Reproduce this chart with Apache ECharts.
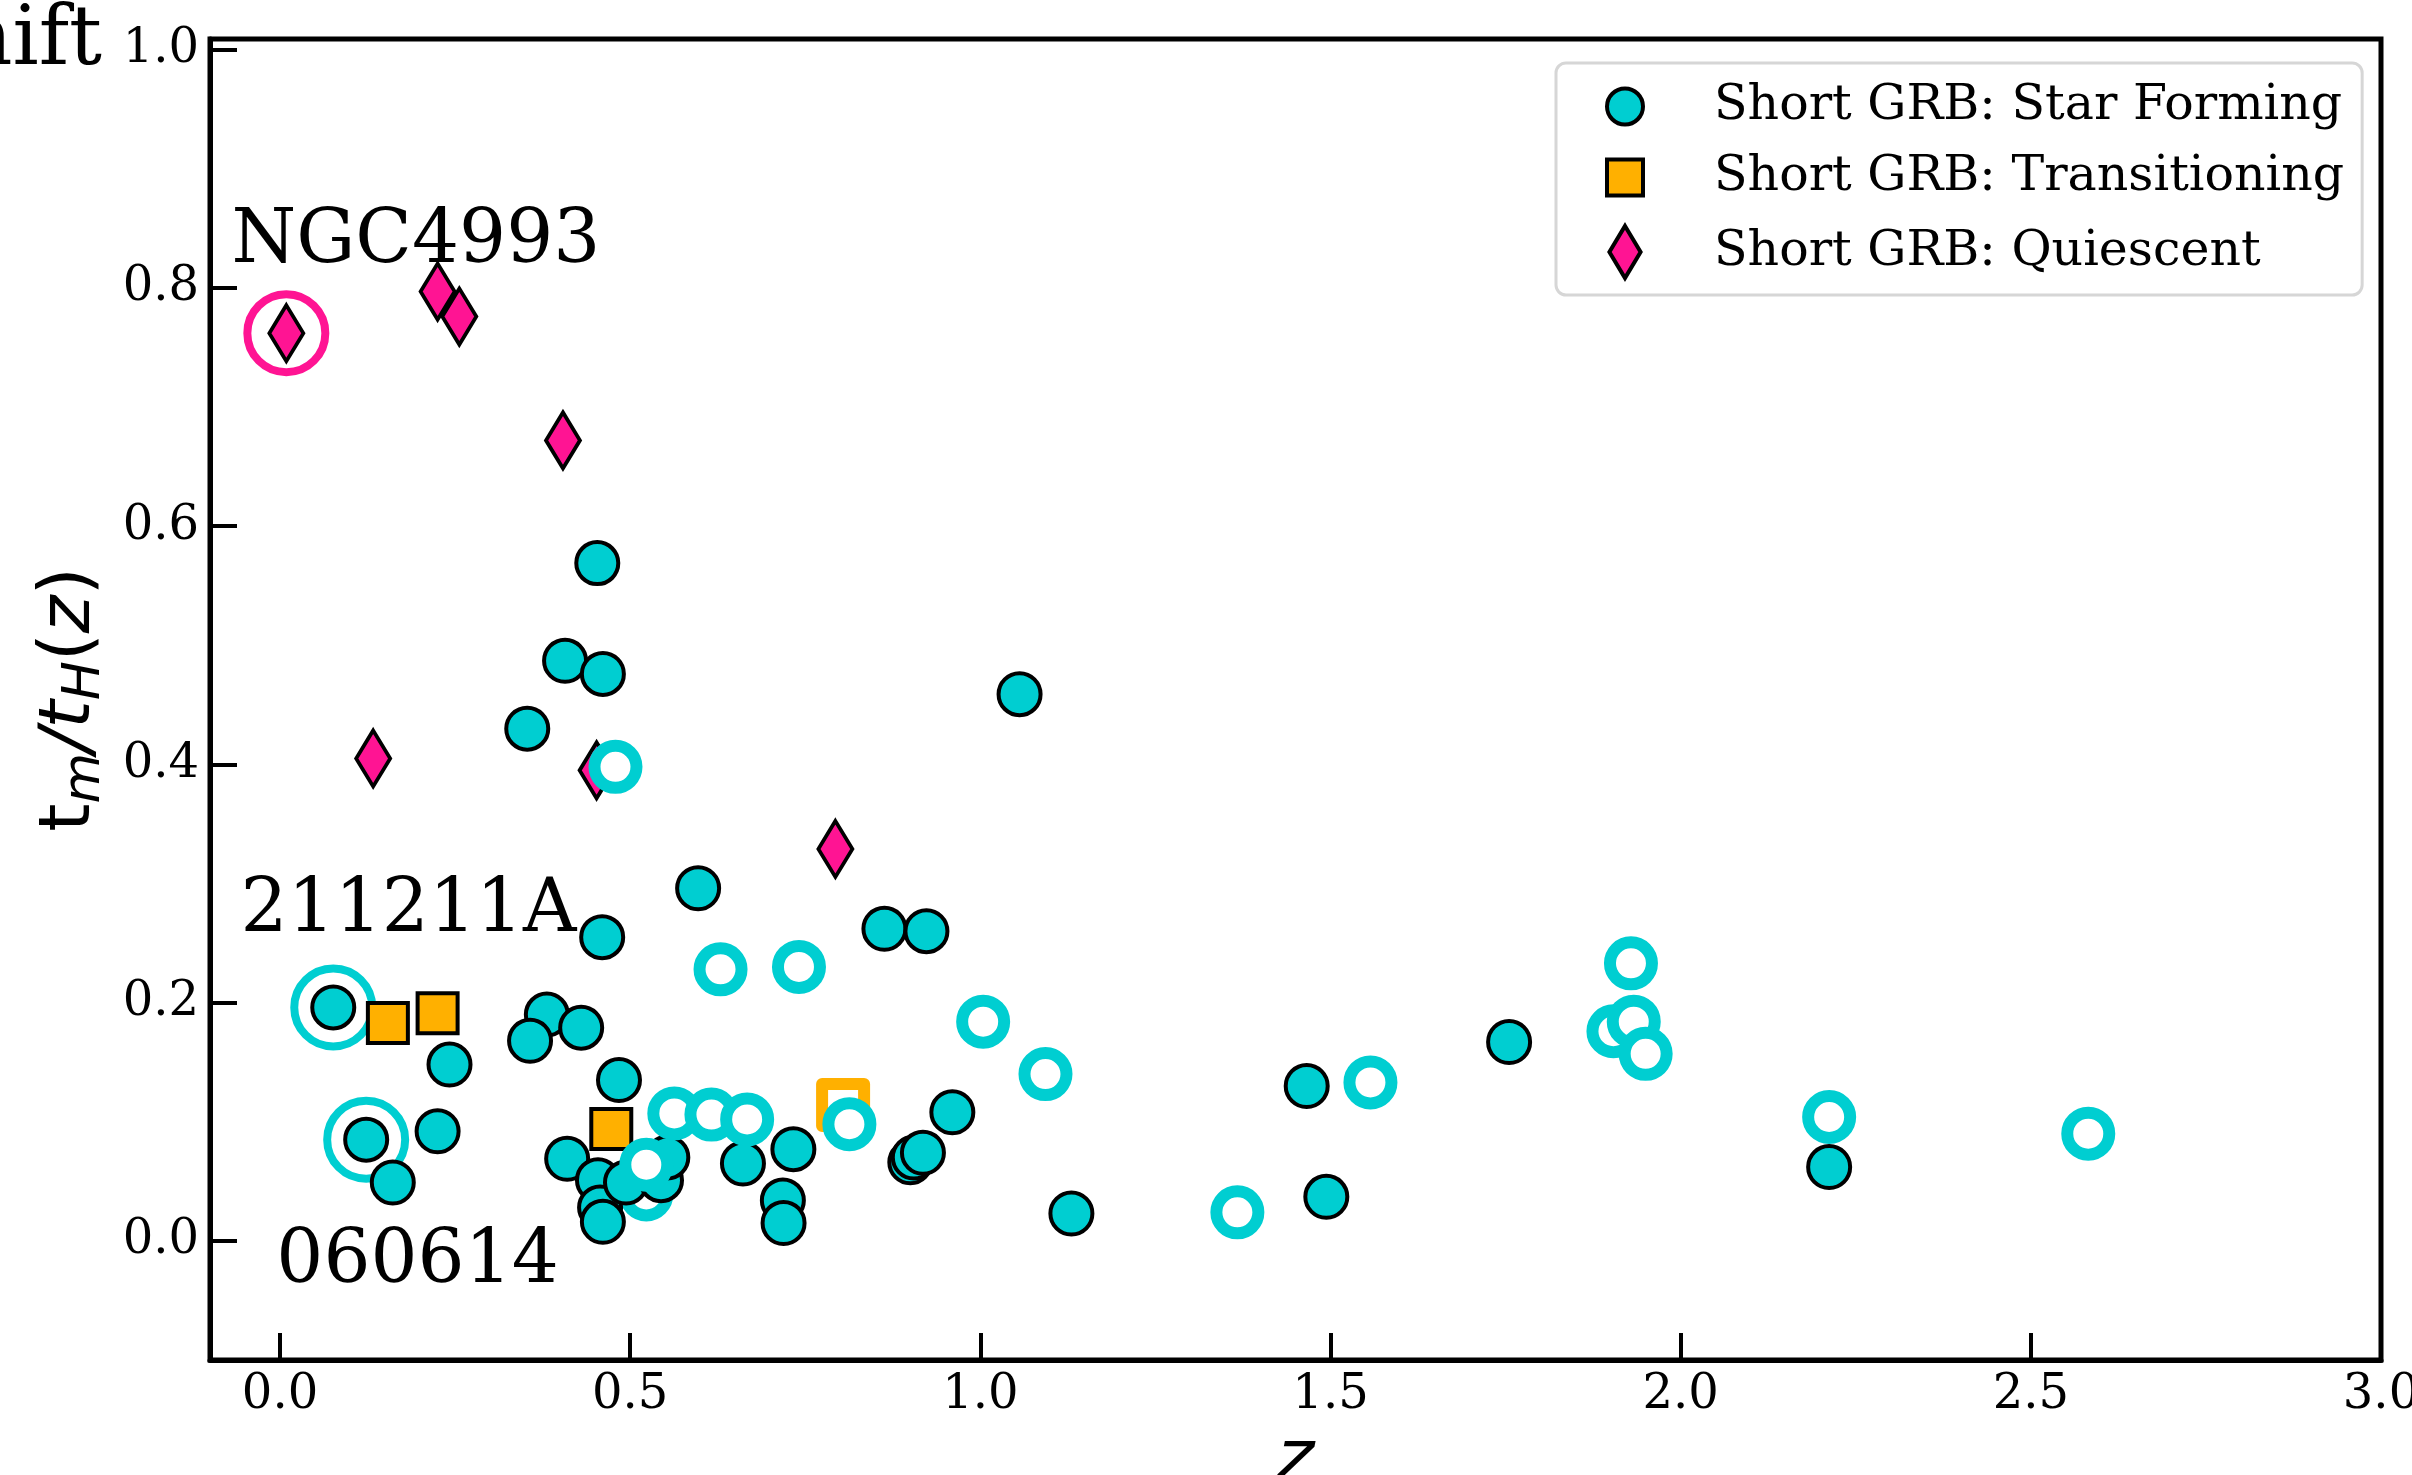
<!DOCTYPE html>
<html>
<head>
<meta charset="utf-8">
<script src="https://cdn.jsdelivr.net/npm/echarts@6/dist/echarts.min.js"></script>
<style>
html,body{margin:0;padding:0;background:#fff;}
#chart{width:2412px;height:1475px;}
</style>
</head>
<body>
<div id="chart"></div>
<script>
// ---- data (z, t_m/t_H(z)) ----
const xTicks = [0, 0.5, 1.0, 1.5, 2.0, 2.5, 3.0];
const yTicks = [0, 0.2, 0.4, 0.6, 0.8, 1.0];

const starFormingFilled = [
  [0.453,0.569],[0.407,0.487],[0.461,0.476],[0.353,0.430],[1.056,0.459],
  [0.597,0.296],[0.863,0.262],[0.923,0.260],[0.460,0.255],
  [0.076,0.196],[0.381,0.190],[0.357,0.168],[0.430,0.179],[0.242,0.148],[0.484,0.135],
  [0.123,0.085],[0.225,0.092],[0.161,0.049],[0.410,0.069],[0.454,0.051],[0.457,0.028],
  [0.461,0.016],[0.494,0.049],[0.544,0.051],[0.553,0.070],
  [0.661,0.065],[0.733,0.077],[0.718,0.034],[0.719,0.015],
  [0.900,0.066],[0.905,0.070],[0.918,0.074],[0.960,0.108],[1.130,0.023],
  [1.466,0.130],[1.494,0.037],[1.755,0.167],[2.212,0.062]
];
const starFormingOpenBehind = [[0.523,0.039]];
const starFormingOpen = [
  [0.479,0.398],[0.629,0.228],[0.741,0.230],[1.004,0.184],[1.093,0.140],
  [0.563,0.107],[0.616,0.106],[0.667,0.102],[0.813,0.098],[0.523,0.064],
  [1.367,0.024],[1.557,0.133],[1.929,0.233],[1.904,0.176],[1.933,0.184],[1.950,0.157],
  [2.212,0.104],[2.582,0.090]
];
const transitioningFilled = [[0.154,0.183],[0.225,0.191],[0.473,0.094]];
const transitioningOpen = [[0.804,0.114]];
const quiescent = [[0.009,0.762],[0.225,0.797],[0.256,0.776],[0.404,0.672],[0.133,0.405],[0.452,0.395],[0.793,0.329]];

const highlightPink = [[0.009,0.762]];
const highlightCyan = [[0.076,0.196],[0.123,0.085]];

const annotations = [[-0.070,0.838,'NGC4993'],[-0.057,0.276,'211211A'],[-0.006,-0.018,'060614']];

const legendNames = ['Short GRB: Star Forming','Short GRB: Transitioning','Short GRB: Quiescent'];

// ---- styling ----
const CYAN = '#00CED1', PINK = '#FF1493', ORANGE = '#FFB000';
const SERIF = 'DejaVu Serif';
const SANS = 'DejaVu Sans';

const chart = echarts.init(document.getElementById('chart'), null, {renderer:'canvas'});

const option = {
  animation: false,
  backgroundColor: '#fff',
  grid: {left: 210, right: 31, top: 39, bottom: 115, show: true, borderColor: '#000', borderWidth: 5,
         backgroundColor: 'transparent', containLabel: false, outerBoundsMode: 'none'},
  graphic: [{
    type: 'text', right: 2412 - 102, top: 2,
    style: {text: 'Redshift', font: '82px "DejaVu Serif"', fill: '#000'}
  }],
  legend: {
    orient: 'vertical', left: 1556, top: 63,
    padding: [19, 18, 15, 49],
    itemGap: 22, itemWidth: 36, itemHeight: 52,
    backgroundColor: '#fff', borderColor: '#d6d6d6', borderWidth: 3, borderRadius: 10,
    itemStyle: {borderWidth: 4, borderColor: '#000', opacity: 1},
    textStyle: {fontFamily: SERIF, fontSize: 49, color: '#000', padding: [0, 0, 0, 66]},
    selectedMode: false,
    data: [
      {name: legendNames[0], icon: 'circle'},
      {name: legendNames[1], icon: 'path://M0,0L10,0L10,10L0,10Z'},
      {name: legendNames[2], icon: 'path://M3,0L6,5L3,10L0,5Z'}
    ]
  },
  xAxis: {
    type: 'value', min: -0.1, max: 3.0,
    name: 'z', nameLocation: 'middle', nameGap: 61,
    nameTextStyle: {fontFamily: SANS, fontStyle: 'italic', fontSize: 72, color: '#000'},
    axisLine: {onZero: false, lineStyle: {color: '#000', width: 5}},
    axisTick: {inside: true, length: 27, lineStyle: {color: '#000', width: 4}, customValues: xTicks},
    axisLabel: {customValues: xTicks, formatter: v => v.toFixed(1), fontFamily: SERIF, fontSize: 48, color: '#000', margin: 12},
    splitLine: {show: false}
  },
  yAxis: {
    type: 'value', min: -0.1, max: 1.009,
    name: '{u|t}{s|m}{i|/t}{s|H}{u|(}{i|z}{u|)}',
    nameLocation: 'middle', nameRotate: 90, nameGap: 81,
    nameTextStyle: {
      color: '#000',
      rich: {
        u: {fontFamily: SANS, fontSize: 72, color: '#000'},
        i: {fontFamily: SANS, fontStyle: 'italic', fontSize: 72, color: '#000'},
        s: {fontFamily: SANS, fontStyle: 'italic', fontSize: 52, color: '#000', padding: [30, 0, 0, 0]}
      }
    },
    axisLine: {onZero: false, lineStyle: {color: '#000', width: 5}},
    axisTick: {inside: true, length: 27, lineStyle: {color: '#000', width: 4}, customValues: yTicks},
    axisLabel: {customValues: yTicks, formatter: v => v.toFixed(1), fontFamily: SERIF, fontSize: 48, color: '#000', margin: 11},
    splitLine: {show: false}
  },
  series: [
    {name: 'ring-pink', type: 'scatter', data: highlightPink, symbol: 'circle', symbolSize: 78,
     itemStyle: {color: 'rgba(0,0,0,0)', borderColor: PINK, borderWidth: 8, opacity: 1}, silent: true},
    {name: 'ring-cyan', type: 'scatter', data: highlightCyan, symbol: 'circle', symbolSize: 78,
     itemStyle: {color: 'rgba(0,0,0,0)', borderColor: CYAN, borderWidth: 8, opacity: 1}, silent: true},
    {name: 'sf-open-behind', type: 'scatter', data: starFormingOpenBehind, symbol: 'circle', symbolSize: 42,
     itemStyle: {color: '#fff', borderColor: CYAN, borderWidth: 12, opacity: 1}},
    {name: legendNames[0], type: 'scatter', data: starFormingFilled, symbol: 'circle', symbolSize: 42,
     itemStyle: {color: CYAN, borderColor: '#000', borderWidth: 4, opacity: 1}},
    {name: legendNames[1], type: 'scatter', data: transitioningFilled, symbol: 'rect', symbolSize: 40,
     itemStyle: {color: ORANGE, borderColor: '#000', borderWidth: 4, borderJoin: 'miter', opacity: 1}},
    {name: 'tr-open', type: 'scatter', data: transitioningOpen, symbol: 'rect', symbolSize: 42,
     itemStyle: {color: '#fff', borderColor: ORANGE, borderWidth: 12, borderJoin: 'round', opacity: 1}},
    {name: legendNames[2], type: 'scatter', data: quiescent, symbol: 'diamond', symbolSize: [34, 56],
     itemStyle: {color: PINK, borderColor: '#000', borderWidth: 4, borderJoin: 'miter', borderMiterLimit: 10, opacity: 1}},
    {name: 'sf-open', type: 'scatter', data: starFormingOpen, symbol: 'circle', symbolSize: 42,
     itemStyle: {color: '#fff', borderColor: CYAN, borderWidth: 12, opacity: 1}},
    {name: 'annotations', type: 'scatter', data: annotations, symbol: 'circle', symbolSize: 1,
     itemStyle: {color: 'rgba(0,0,0,0)', opacity: 1}, silent: true,
     label: {show: true, position: 'right', distance: 0, formatter: p => p.value[2],
             fontFamily: SERIF, fontSize: 74, color: '#000', opacity: 1}}
  ]
};
chart.setOption(option);
</script>
</body>
</html>
